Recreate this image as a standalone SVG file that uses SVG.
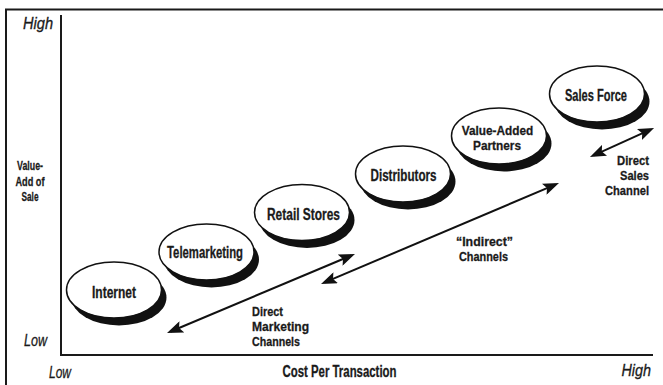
<svg xmlns="http://www.w3.org/2000/svg" width="663" height="385" viewBox="0 0 663 385">
  <style>
    .lbl { font-family: "Liberation Sans", Arial, sans-serif; font-weight: bold; font-size: 16px; fill: #1a1a1a; stroke: #1a1a1a; stroke-width: 0.3; }
    .stack { font-size: 13.5px; }
    .axis-end { font-family: "Liberation Sans", Arial, sans-serif; font-style: italic; font-size: 16px; fill: #1a1a1a; stroke: #1a1a1a; stroke-width: 0.3; }
    .mid { text-anchor: middle; }
    .end { text-anchor: end; }
    .frame { fill: none; stroke: #1a1a1a; stroke-width: 2; }
    .axis { fill: none; stroke: #1a1a1a; stroke-width: 2; }
    .shadow { fill: #111; }
    .disc { fill: #fff; stroke: #111; stroke-width: 1.5; }
    .conn { fill: none; stroke: #111; stroke-width: 2; marker-start: url(#head); marker-end: url(#head); }
  </style>
  <defs>
    <marker id="head" viewBox="0 0 16 12" markerWidth="16" markerHeight="12" markerUnits="userSpaceOnUse" refX="12" refY="6" orient="auto-start-reverse">
      <path d="M0,0 L16,6 L0,12 L3,6 z" fill="#111"/>
    </marker>
    <!-- one channel disc: black drop shadow under a white outlined ellipse -->
    <g id="disc">
      <ellipse class="shadow" cx="5" cy="7.5" rx="47.5" ry="28"/>
      <ellipse class="disc" cx="0" cy="0" rx="47.5" ry="28"/>
    </g>
  </defs>

  <rect width="663" height="385" fill="#fff"/>

  <!-- outer frame (top and left edges) -->
  <path class="frame" d="M6,385 V9.5 H663"/>

  <!-- axes -->
  <g id="axes">
    <path class="axis" d="M61,15 V355 H653"/>
    <text class="axis-end" x="23" y="29" textLength="30" lengthAdjust="spacingAndGlyphs">High</text>
    <text class="axis-end" x="24" y="346" textLength="23" lengthAdjust="spacingAndGlyphs">Low</text>
    <text class="axis-end" x="49" y="378" textLength="22" lengthAdjust="spacingAndGlyphs">Low</text>
    <text class="axis-end" x="621.5" y="376" textLength="29.5" lengthAdjust="spacingAndGlyphs">High</text>
    <text class="lbl stack mid" x="30" y="170" textLength="26" lengthAdjust="spacingAndGlyphs">Value-</text>
    <text class="lbl stack mid" x="30" y="185.5" textLength="29" lengthAdjust="spacingAndGlyphs">Add of</text>
    <text class="lbl stack mid" x="30" y="201" textLength="17" lengthAdjust="spacingAndGlyphs">Sale</text>
    <text class="lbl mid" x="339.5" y="377" textLength="114" lengthAdjust="spacingAndGlyphs">Cost Per Transaction</text>
  </g>

  <!-- channel nodes -->
  <g id="internet">
    <use href="#disc" x="114" y="290"/>
    <text class="lbl mid" x="114" y="298" textLength="44" lengthAdjust="spacingAndGlyphs">Internet</text>
  </g>
  <g id="telemarketing">
    <use href="#disc" x="206.5" y="252"/>
    <text class="lbl mid" x="205" y="258" textLength="76" lengthAdjust="spacingAndGlyphs">Telemarketing</text>
  </g>
  <g id="retail-stores">
    <use href="#disc" x="302" y="212.5"/>
    <text class="lbl mid" x="303.5" y="220" textLength="73" lengthAdjust="spacingAndGlyphs">Retail Stores</text>
  </g>
  <g id="distributors">
    <use href="#disc" x="403" y="174"/>
    <text class="lbl mid" x="403.5" y="181" textLength="66" lengthAdjust="spacingAndGlyphs">Distributors</text>
  </g>
  <g id="value-added-partners">
    <use href="#disc" x="499" y="136"/>
    <text class="lbl stack mid" x="497.5" y="135" textLength="71.5" lengthAdjust="spacingAndGlyphs">Value-Added</text>
    <text class="lbl stack mid" x="497" y="150" textLength="48" lengthAdjust="spacingAndGlyphs">Partners</text>
  </g>
  <g id="sales-force">
    <use href="#disc" x="597" y="94"/>
    <text class="lbl mid" x="596" y="101" textLength="62" lengthAdjust="spacingAndGlyphs">Sales Force</text>
  </g>

  <!-- double-headed channel span arrows -->
  <g id="connectors">
    <line class="conn" x1="170.7" y1="331.5" x2="351.3" y2="255.5"/>
    <line class="conn" x1="324.7" y1="282.4" x2="555.3" y2="184.6"/>
    <line class="conn" x1="593.6" y1="155.3" x2="650.4" y2="129.6"/>
  </g>

  <!-- span labels -->
  <g id="span-labels">
    <text class="lbl stack" x="252" y="316" textLength="31" lengthAdjust="spacingAndGlyphs">Direct</text>
    <text class="lbl stack" x="252" y="331" textLength="57" lengthAdjust="spacingAndGlyphs">Marketing</text>
    <text class="lbl stack" x="252" y="346" textLength="48" lengthAdjust="spacingAndGlyphs">Channels</text>

    <text class="lbl stack mid" x="484.5" y="246" textLength="57" lengthAdjust="spacingAndGlyphs">“Indirect”</text>
    <text class="lbl stack mid" x="483.5" y="261" textLength="49" lengthAdjust="spacingAndGlyphs">Channels</text>

    <text class="lbl stack end" x="649" y="165" textLength="32" lengthAdjust="spacingAndGlyphs">Direct</text>
    <text class="lbl stack end" x="649" y="180" textLength="29" lengthAdjust="spacingAndGlyphs">Sales</text>
    <text class="lbl stack end" x="649" y="195" textLength="44" lengthAdjust="spacingAndGlyphs">Channel</text>
  </g>
</svg>
